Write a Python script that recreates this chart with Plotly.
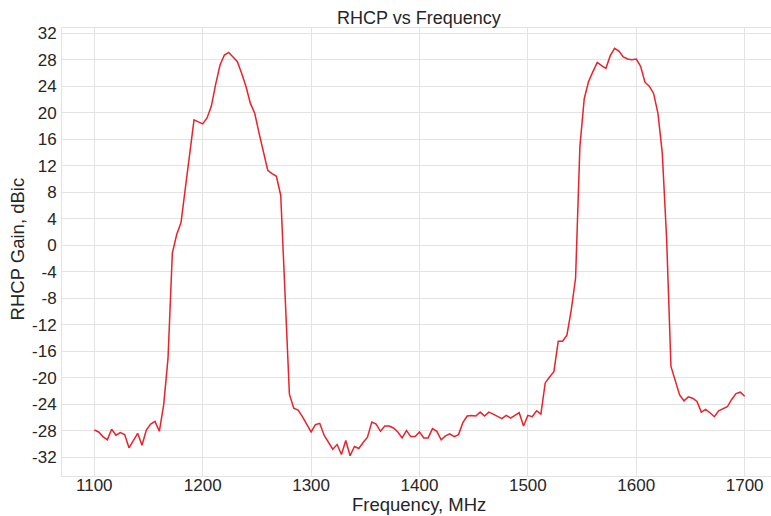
import plotly.graph_objects as go

# Frequency axis (MHz), 4 MHz steps from 1100 to 1700
freq_mhz = list(range(1100, 1704, 4))

# RHCP gain (dBic)
rhcp_gain = [
    -27.9, -28.2, -28.9, -29.4, -27.8, -28.7, -28.3, -28.6, -30.6, -29.5,
    -28.4, -30.2, -27.9, -27.0, -26.6, -28.1, -24.1, -17.1, -1.2, 1.6,
    3.4, 8.6, 13.8, 18.9, 18.6, 18.3, 19.2, 21.0, 24.3, 27.2,
    28.7, 29.1, 28.4, 27.7, 25.9, 23.9, 21.4, 19.9, 16.9, 13.9,
    11.3, 10.8, 10.4, 7.5, -7.6, -22.5, -24.6, -24.9, -25.9, -27.1,
    -28.2, -27.1, -26.9, -28.7, -29.7, -30.8, -30.1, -31.6, -29.5, -31.8,
    -30.4, -30.7, -29.8, -29.0, -26.7, -27.0, -28.1, -27.3, -27.3, -27.6,
    -28.2, -29.1, -28.0, -28.9, -28.9, -28.2, -29.1, -29.1, -27.7, -28.1,
    -29.4, -28.8, -28.5, -28.9, -28.6, -26.8, -25.8, -25.7, -25.8, -25.2,
    -25.8, -25.2, -25.5, -25.8, -26.2, -25.7, -26.1, -25.7, -25.3, -27.3,
    -25.7, -25.9, -25.0, -25.5, -20.8, -19.9, -19.1, -14.5, -14.5, -13.6,
    -9.8, -5.0, 14.9, 22.1, 24.7, 26.2, 27.6, 27.1, 26.7, 28.6,
    29.7, 29.3, 28.4, 28.1, 28.0, 28.1, 27.0, 24.6, 24.0, 22.9,
    19.9, 13.9, 1.0, -18.3, -20.5, -22.6, -23.5, -22.9, -23.1, -23.6,
    -25.2, -24.8, -25.3, -25.9, -25.0, -24.7, -24.4, -23.3, -22.4, -22.2,
    -22.8,
]

x_ticks = [1100, 1200, 1300, 1400, 1500, 1600, 1700]
y_ticks = list(range(-32, 33, 4))

assert len(freq_mhz) == len(rhcp_gain)

FONT = "Liberation Sans, Arial, sans-serif"
GRID = "#e3e3e3"
TEXT = "#262626"

fig = go.Figure()
fig.add_trace(go.Scatter(
    x=freq_mhz, y=rhcp_gain, mode="lines",
    line=dict(color="#e8232b", width=1.5),
    showlegend=False, hoverinfo="x+y",
))

fig.update_layout(
    width=771, height=516,
    margin=dict(l=62, r=0, t=28, b=40),
    paper_bgcolor="white", plot_bgcolor="white",
    font=dict(family=FONT, color=TEXT, size=17),
    showlegend=False,
    annotations=[
        dict(text="RHCP vs Frequency", xref="paper", yref="paper",
             x=0.5042, y=1.022, showarrow=False, xanchor="center", yanchor="middle",
             font=dict(size=18, family=FONT, color=TEXT)),
        dict(text="Frequency, MHz", xref="paper", yref="paper",
             x=0.5042, y=-0.0625, showarrow=False, xanchor="center", yanchor="middle",
             font=dict(size=18.5, family=FONT, color=TEXT)),
        dict(text="RHCP Gain, dBic", xref="paper", yref="paper",
             x=-0.0635, y=0.508, showarrow=False, xanchor="center", yanchor="middle",
             textangle=-90, font=dict(size=18.5, family=FONT, color=TEXT)),
    ],
)

fig.update_xaxes(
    range=[1070.2, 1724.3], tickvals=x_ticks, ticktext=[str(v) for v in x_ticks],
    showgrid=True, gridcolor=GRID, gridwidth=1,
    showline=True, linecolor=GRID, linewidth=1, mirror=True,
    zeroline=False, ticks="", ticklabelstandoff=-6,
    tickfont=dict(size=17, family=FONT, color=TEXT),
)
fig.update_yaxes(
    range=[-34.85, 32.78], tickvals=y_ticks, ticktext=[str(v) for v in y_ticks],
    showgrid=True, gridcolor=GRID, gridwidth=1,
    showline=True, linecolor=GRID, linewidth=1, mirror=True,
    zeroline=False, ticks="outside", ticklen=1, tickcolor="rgba(0,0,0,0)",
    tickfont=dict(size=17, family=FONT, color=TEXT),
)

fig.write_html(
    "out.html",
    config={"displayModeBar": False},
    post_script="document.body.style.margin='0';document.body.style.padding='0';",
)
